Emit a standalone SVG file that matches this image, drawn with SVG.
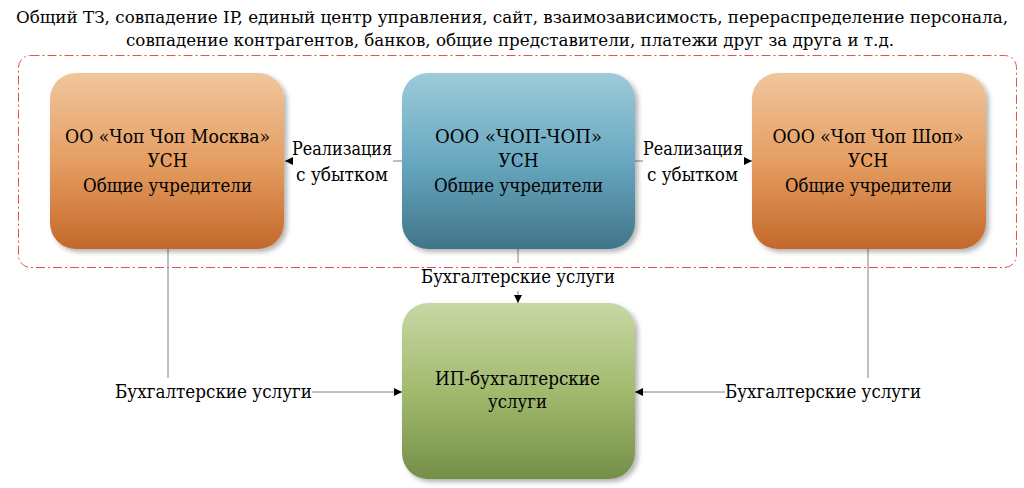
<svg xmlns="http://www.w3.org/2000/svg" width="1024" height="488" viewBox="0 0 1024 488">
<defs>
<linearGradient id="gOr" x1="0" y1="0" x2="0" y2="1"><stop offset="0" stop-color="#F0C69D"/><stop offset="0.5" stop-color="#E59E62"/><stop offset="1" stop-color="#C4682B"/></linearGradient>
<linearGradient id="gBl" x1="0" y1="0" x2="0" y2="1"><stop offset="0" stop-color="#9DCBDA"/><stop offset="0.5" stop-color="#68A8C0"/><stop offset="1" stop-color="#417489"/></linearGradient>
<linearGradient id="gGr" x1="0" y1="0" x2="0" y2="1"><stop offset="0" stop-color="#C8D7A5"/><stop offset="0.5" stop-color="#A2BA6E"/><stop offset="1" stop-color="#748F47"/></linearGradient>
<filter id="sh" x="-10%" y="-10%" width="125%" height="125%"><feDropShadow dx="3" dy="3" stdDeviation="2.5" flood-color="#000" flood-opacity="0.3"/></filter>
<marker id="ah" viewBox="0 0 10 10" refX="10" refY="5" markerWidth="8" markerHeight="8" markerUnits="userSpaceOnUse" orient="auto"><path d="M0,0 L10,5 L0,10 Z" fill="#000"/></marker>
<style>
text{font-family:"DejaVu Serif","Liberation Serif",serif;fill:#000;text-anchor:middle;}
.t{font-size:18.5px;}
.lbl{font-size:18.5px;}
.ttl{font-size:16px;}
.ln{stroke:#808080;stroke-width:1;fill:none;}
.box{filter:url(#sh);}
</style>
</defs>
<g id="title">
<text class="ttl" x="512" y="23" textLength="992" lengthAdjust="spacingAndGlyphs">Общий ТЗ, совпадение IP, единый центр управления, сайт, взаимозависимость, перераспределение персонала,</text>
<text class="ttl" x="510" y="46" textLength="768" lengthAdjust="spacingAndGlyphs">совпадение контрагентов, банков, общие представители, платежи друг за друга и т.д.</text>
</g>
<g id="group-frame">
<rect x="18.5" y="55.5" width="998" height="212" rx="12" fill="none" stroke="#E8504F" stroke-width="1" stroke-dasharray="9 3 2 3"/>
</g>
<g id="connectors">
<line class="ln" x1="402" y1="161" x2="393" y2="161"/>
<line class="ln" x1="291" y1="161" x2="285" y2="161" marker-end="url(#ah)"/>
<line class="ln" x1="635" y1="161" x2="643" y2="161"/>
<line class="ln" x1="746" y1="161" x2="752" y2="161" marker-end="url(#ah)"/>
<line class="ln" x1="518" y1="249" x2="518" y2="263"/>
<line class="ln" x1="518" y1="291" x2="518" y2="303" marker-end="url(#ah)"/>
<line class="ln" x1="168" y1="249" x2="168" y2="378"/>
<line class="ln" x1="312" y1="392" x2="402" y2="392" marker-end="url(#ah)"/>
<line class="ln" x1="868" y1="249" x2="868" y2="378"/>
<line class="ln" x1="725" y1="392" x2="635" y2="392" marker-end="url(#ah)"/>
<text class="lbl" x="342" y="155" textLength="100" lengthAdjust="spacingAndGlyphs">Реализация</text>
<text class="lbl" x="342" y="181" textLength="92" lengthAdjust="spacingAndGlyphs">с убытком</text>
<text class="lbl" x="693" y="155" textLength="100" lengthAdjust="spacingAndGlyphs">Реализация</text>
<text class="lbl" x="692.5" y="181" textLength="91" lengthAdjust="spacingAndGlyphs">с убытком</text>
<text class="lbl" x="518" y="283" textLength="194" lengthAdjust="spacingAndGlyphs">Бухгалтерские услуги</text>
<text class="lbl" x="213.5" y="398" textLength="197" lengthAdjust="spacingAndGlyphs">Бухгалтерские услуги</text>
<text class="lbl" x="823" y="398" textLength="196" lengthAdjust="spacingAndGlyphs">Бухгалтерские услуги</text>
</g>
<g id="node-moskva">
<rect class="box" x="50" y="73" width="234" height="176" rx="26" fill="url(#gOr)"/>
<text class="t" x="167.5" y="143" textLength="205" lengthAdjust="spacingAndGlyphs">ОО «Чоп Чоп Москва»</text>
<text class="t" x="167.5" y="167" textLength="40" lengthAdjust="spacingAndGlyphs">УСН</text>
<text class="t" x="167.5" y="192" textLength="169" lengthAdjust="spacingAndGlyphs">Общие учредители</text>
</g>
<g id="node-chop">
<rect class="box" x="402" y="73" width="233" height="176" rx="26" fill="url(#gBl)"/>
<text class="t" x="518.5" y="143" textLength="167" lengthAdjust="spacingAndGlyphs">ООО «ЧОП-ЧОП»</text>
<text class="t" x="518.5" y="167" textLength="40" lengthAdjust="spacingAndGlyphs">УСН</text>
<text class="t" x="518.5" y="192" textLength="169" lengthAdjust="spacingAndGlyphs">Общие учредители</text>
</g>
<g id="node-shop">
<rect class="box" x="752" y="73" width="234" height="176" rx="26" fill="url(#gOr)"/>
<text class="t" x="868" y="143" textLength="191" lengthAdjust="spacingAndGlyphs">ООО «Чоп Чоп Шоп»</text>
<text class="t" x="868" y="167" textLength="40" lengthAdjust="spacingAndGlyphs">УСН</text>
<text class="t" x="868.5" y="192" textLength="167" lengthAdjust="spacingAndGlyphs">Общие учредители</text>
</g>
<g id="node-ip">
<rect class="box" x="402" y="303" width="233" height="176" rx="26" fill="url(#gGr)"/>
<text class="t" x="517.5" y="385" textLength="165" lengthAdjust="spacingAndGlyphs">ИП-бухгалтерские</text>
<text class="t" x="517.5" y="408" textLength="59" lengthAdjust="spacingAndGlyphs">услуги</text>
</g>
</svg>
